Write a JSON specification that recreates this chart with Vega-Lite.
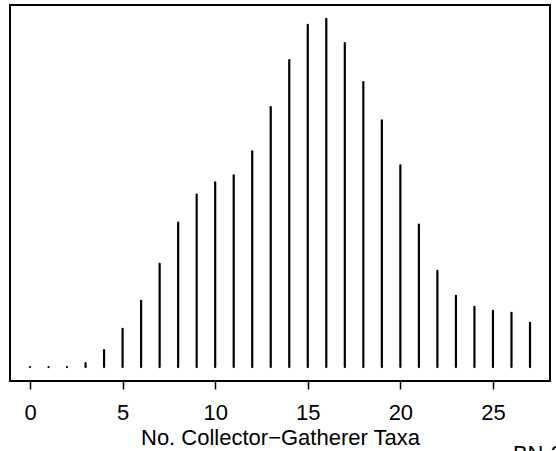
{
  "$schema": "https://vega.github.io/schema/vega-lite/v6.json",
  "width": 540,
  "height": 376,
  "autosize": {"type": "none"},
  "padding": {"left": 10, "top": 5, "right": 6, "bottom": 70},
  "background": "white",
  "title": {
    "text": "BN-2",
    "orient": "bottom",
    "anchor": "end",
    "frame": "group",
    "baseline": "top",
    "offset": -4,
    "dx": 13,
    "font": "Liberation Sans",
    "fontSize": 22,
    "fontWeight": "normal",
    "color": "black"
  },
  "data": {
    "values": [
      {"taxa": 0, "freq": 0},
      {"taxa": 1, "freq": 0},
      {"taxa": 2, "freq": 0},
      {"taxa": 3, "freq": 4},
      {"taxa": 4, "freq": 17},
      {"taxa": 5, "freq": 38},
      {"taxa": 6, "freq": 66},
      {"taxa": 7, "freq": 103},
      {"taxa": 8, "freq": 144},
      {"taxa": 9, "freq": 172},
      {"taxa": 10, "freq": 184},
      {"taxa": 11, "freq": 191},
      {"taxa": 12, "freq": 215},
      {"taxa": 13, "freq": 259},
      {"taxa": 14, "freq": 306},
      {"taxa": 15, "freq": 341},
      {"taxa": 16, "freq": 347},
      {"taxa": 17, "freq": 323},
      {"taxa": 18, "freq": 284},
      {"taxa": 19, "freq": 246},
      {"taxa": 20, "freq": 201},
      {"taxa": 21, "freq": 142},
      {"taxa": 22, "freq": 96},
      {"taxa": 23, "freq": 71},
      {"taxa": 24, "freq": 60},
      {"taxa": 25, "freq": 56},
      {"taxa": 26, "freq": 54},
      {"taxa": 27, "freq": 44}
    ]
  },
  "mark": {"type": "rule", "color": "black", "strokeWidth": 2.2, "strokeCap": "round"},
  "encoding": {
    "x": {
      "field": "taxa",
      "type": "quantitative",
      "scale": {"domain": [-1.08, 28.08], "nice": false, "zero": false},
      "axis": {
        "values": [0, 5, 10, 15, 20, 25],
        "title": "No. Collector−Gatherer Taxa",
        "domain": false,
        "grid": false,
        "tickColor": "black",
        "tickSize": 8,
        "tickWidth": 1.5,
        "labelPadding": 13,
        "labelFont": "Liberation Sans",
        "labelFontSize": 22,
        "labelColor": "black",
        "labelFlush": false,
        "titleFont": "Liberation Sans",
        "titleFontSize": 22,
        "titleFontWeight": "normal",
        "titleColor": "black",
        "titleBaseline": "alphabetic",
        "titleY": 63
      }
    },
    "y": {
      "field": "freq",
      "type": "quantitative",
      "scale": {"domain": [-13.88, 360.88], "nice": false, "zero": false},
      "axis": null
    },
    "y2": {"datum": 0}
  },
  "config": {
    "view": {"stroke": "black", "strokeWidth": 2}
  }
}
